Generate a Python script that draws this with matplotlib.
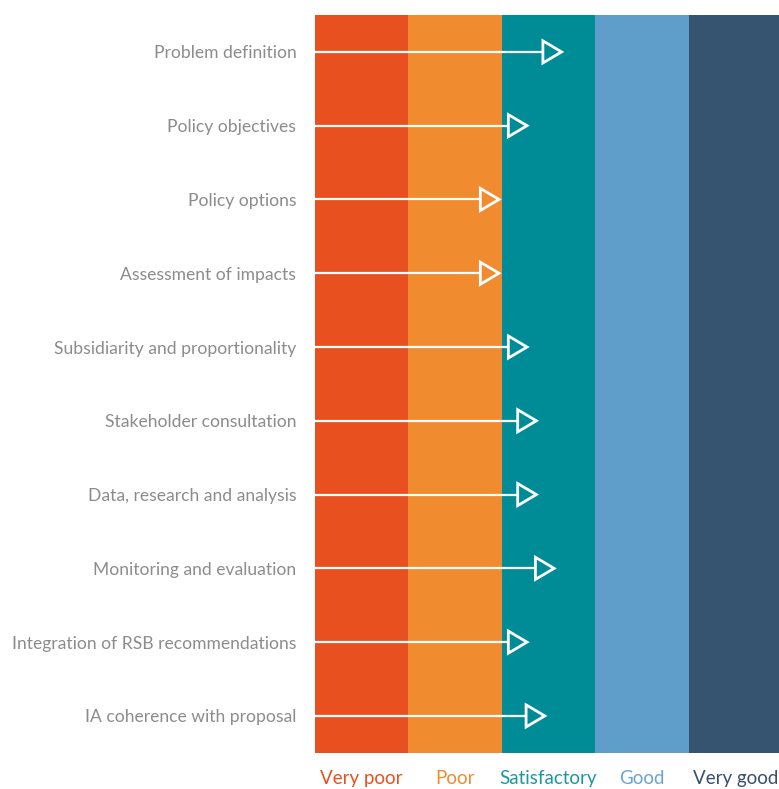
import matplotlib
matplotlib.use("Agg")
import matplotlib.pyplot as plt
from matplotlib.patches import Polygon

criteria = [
    "Problem definition",
    "Policy objectives",
    "Policy options",
    "Assessment of impacts",
    "Subsidiarity and proportionality",
    "Stakeholder consultation",
    "Data, research and analysis",
    "Monitoring and evaluation",
    "Integration of RSB recommendations",
    "IA coherence with proposal",
]
scores = [2.64, 2.27, 1.97, 1.97, 2.27, 2.37, 2.37, 2.56, 2.27, 2.46]

ratings = ["Very poor", "Poor", "Satisfactory", "Good", "Very good"]
band_colors = ["#E8511F", "#F08B2F", "#008C97", "#5F9DCA", "#36536F"]
label_colors = ["#E8511F", "#F08B2F", "#1C979F", "#6AA4D0", "#3A4F6B"]

fam = ["Lato", "DejaVu Sans"]

fig = plt.figure(figsize=(7.79, 7.89), dpi=100)
ax = fig.add_axes([315 / 779, (789 - 752.8) / 789, (779 - 315) / 779, (752.8 - 15) / 789])

for k, c in enumerate(band_colors):
    ax.axvspan(k, k + 1, color=c, lw=0, zorder=0)

n = len(criteria)
ax.set_xlim(0, (779 - 315) / 93.4)
ax.set_ylim(n - 0.5, -0.5)

head_len = 0.2
head_half = 0.15
for i, v in enumerate(scores):
    ax.plot([0, v - head_len], [i, i], color="white", lw=1.6, solid_capstyle="butt", zorder=2)
    tri = Polygon([[v - head_len, i - head_half], [v, i], [v - head_len, i + head_half]],
                  closed=True, fill=False, edgecolor="white", lw=2.0, joinstyle="miter", zorder=3)
    ax.add_patch(tri)

ax.set_yticks(range(n))
ax.set_yticklabels(criteria, family=fam, fontsize=12.6, color="#8C8C8C")
ax.tick_params(axis="y", length=0, pad=13.5, left=False)

ax.set_xticks([k + 0.5 for k in range(len(ratings))])
ax.set_xticklabels(ratings, family=fam, fontsize=13.5)
for t, c in zip(ax.get_xticklabels(), label_colors):
    t.set_color(c)
ax.tick_params(axis="x", length=0, pad=12.5, bottom=False)

for s in ax.spines.values():
    s.set_visible(False)

fig.savefig("out.png", dpi=100, facecolor="white")
